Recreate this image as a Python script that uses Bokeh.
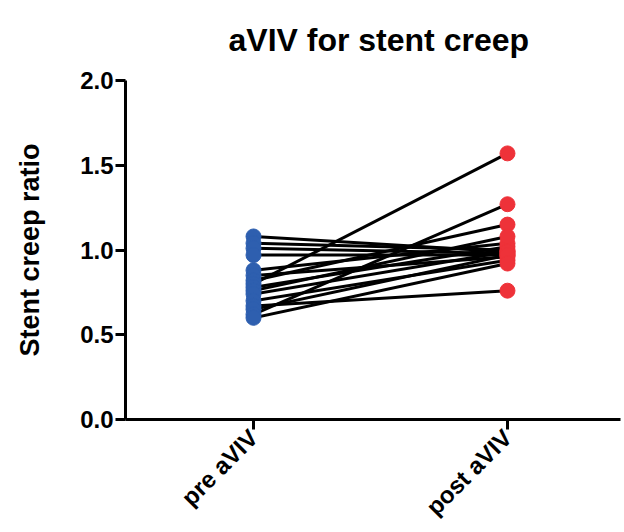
import math
from bokeh.plotting import figure
from bokeh.models import FixedTicker, Range1d
from bokeh.embed import file_html
from bokeh.resources import INLINE

categories = ["pre aVIV", "post aVIV"]
pre_values = [1.08, 1.04, 1.01, 0.97, 0.88, 0.85, 0.82, 0.80, 0.78, 0.76, 0.74, 0.70, 0.67, 0.65, 0.62, 0.60]
post_values = [0.99, 1.00, 0.98, 0.97, 1.04, 0.96, 1.15, 1.57, 1.02, 1.08, 0.99, 0.94, 0.76, 0.97, 1.27, 0.92]
y_ticks = [0.0, 0.5, 1.0, 1.5, 2.0]

FONT = "Liberation Sans"

p = figure(width=624, height=532, output_backend="svg", toolbar_location=None,
           x_range=Range1d(-0.504, 1.445), y_range=Range1d(0, 2),
           min_border_left=125, min_border_right=4, min_border_top=80, min_border_bottom=111,
           title="aVIV for stent creep")
p.title.text_font = FONT
p.title.text_font_size = "32px"
p.title.text_font_style = "bold"
p.title.align = "left"
p.title.offset = 103
p.title.standoff = 42
p.title.vertical_align = "top"
p.title.text_color = "black"

p.outline_line_color = None
p.grid.visible = False
p.background_fill_color = "white"

xs = [[0, 1] for _ in pre_values]
ys = [[a, b] for a, b in zip(pre_values, post_values)]
p.multi_line(xs, ys, line_color="black", line_width=3)
p.scatter([0] * len(pre_values), pre_values, size=15, fill_color="#2E5FAF", line_color="#2E5FAF")
p.scatter([1] * len(post_values), post_values, size=15, fill_color="#EE3239", line_color="#EE3239")

for ax in (p.xaxis[0], p.yaxis[0]):
    ax.axis_line_width = 3
    ax.axis_line_color = "black"
    ax.major_tick_line_width = 3
    ax.major_tick_line_color = "black"
    ax.major_tick_out = 10
    ax.major_tick_in = 0
    ax.minor_tick_line_color = None
    ax.major_label_text_font = FONT
    ax.major_label_text_font_style = "bold"
    ax.major_label_text_color = "black"

p.yaxis.major_label_text_font_size = "24px"
p.yaxis.ticker = FixedTicker(ticks=y_ticks)
p.yaxis.major_label_overrides = {t: f"{t:.1f}" for t in y_ticks}
p.yaxis.major_label_standoff = 2
p.yaxis.axis_label = "Stent creep ratio"
p.yaxis.axis_label_text_font = FONT
p.yaxis.axis_label_text_font_style = "bold"
p.yaxis.axis_label_text_font_size = "27px"
p.yaxis.axis_label_text_color = "black"
p.yaxis.axis_label_standoff = 32

p.xaxis.major_label_text_font_size = "24px"
p.xaxis.ticker = FixedTicker(ticks=[0, 1])
p.xaxis.major_label_overrides = {0: categories[0], 1: categories[1]}
p.xaxis.major_label_orientation = math.pi / 4
p.xaxis.major_label_standoff = 4

open("out.html", "w").write(file_html(p, INLINE))
